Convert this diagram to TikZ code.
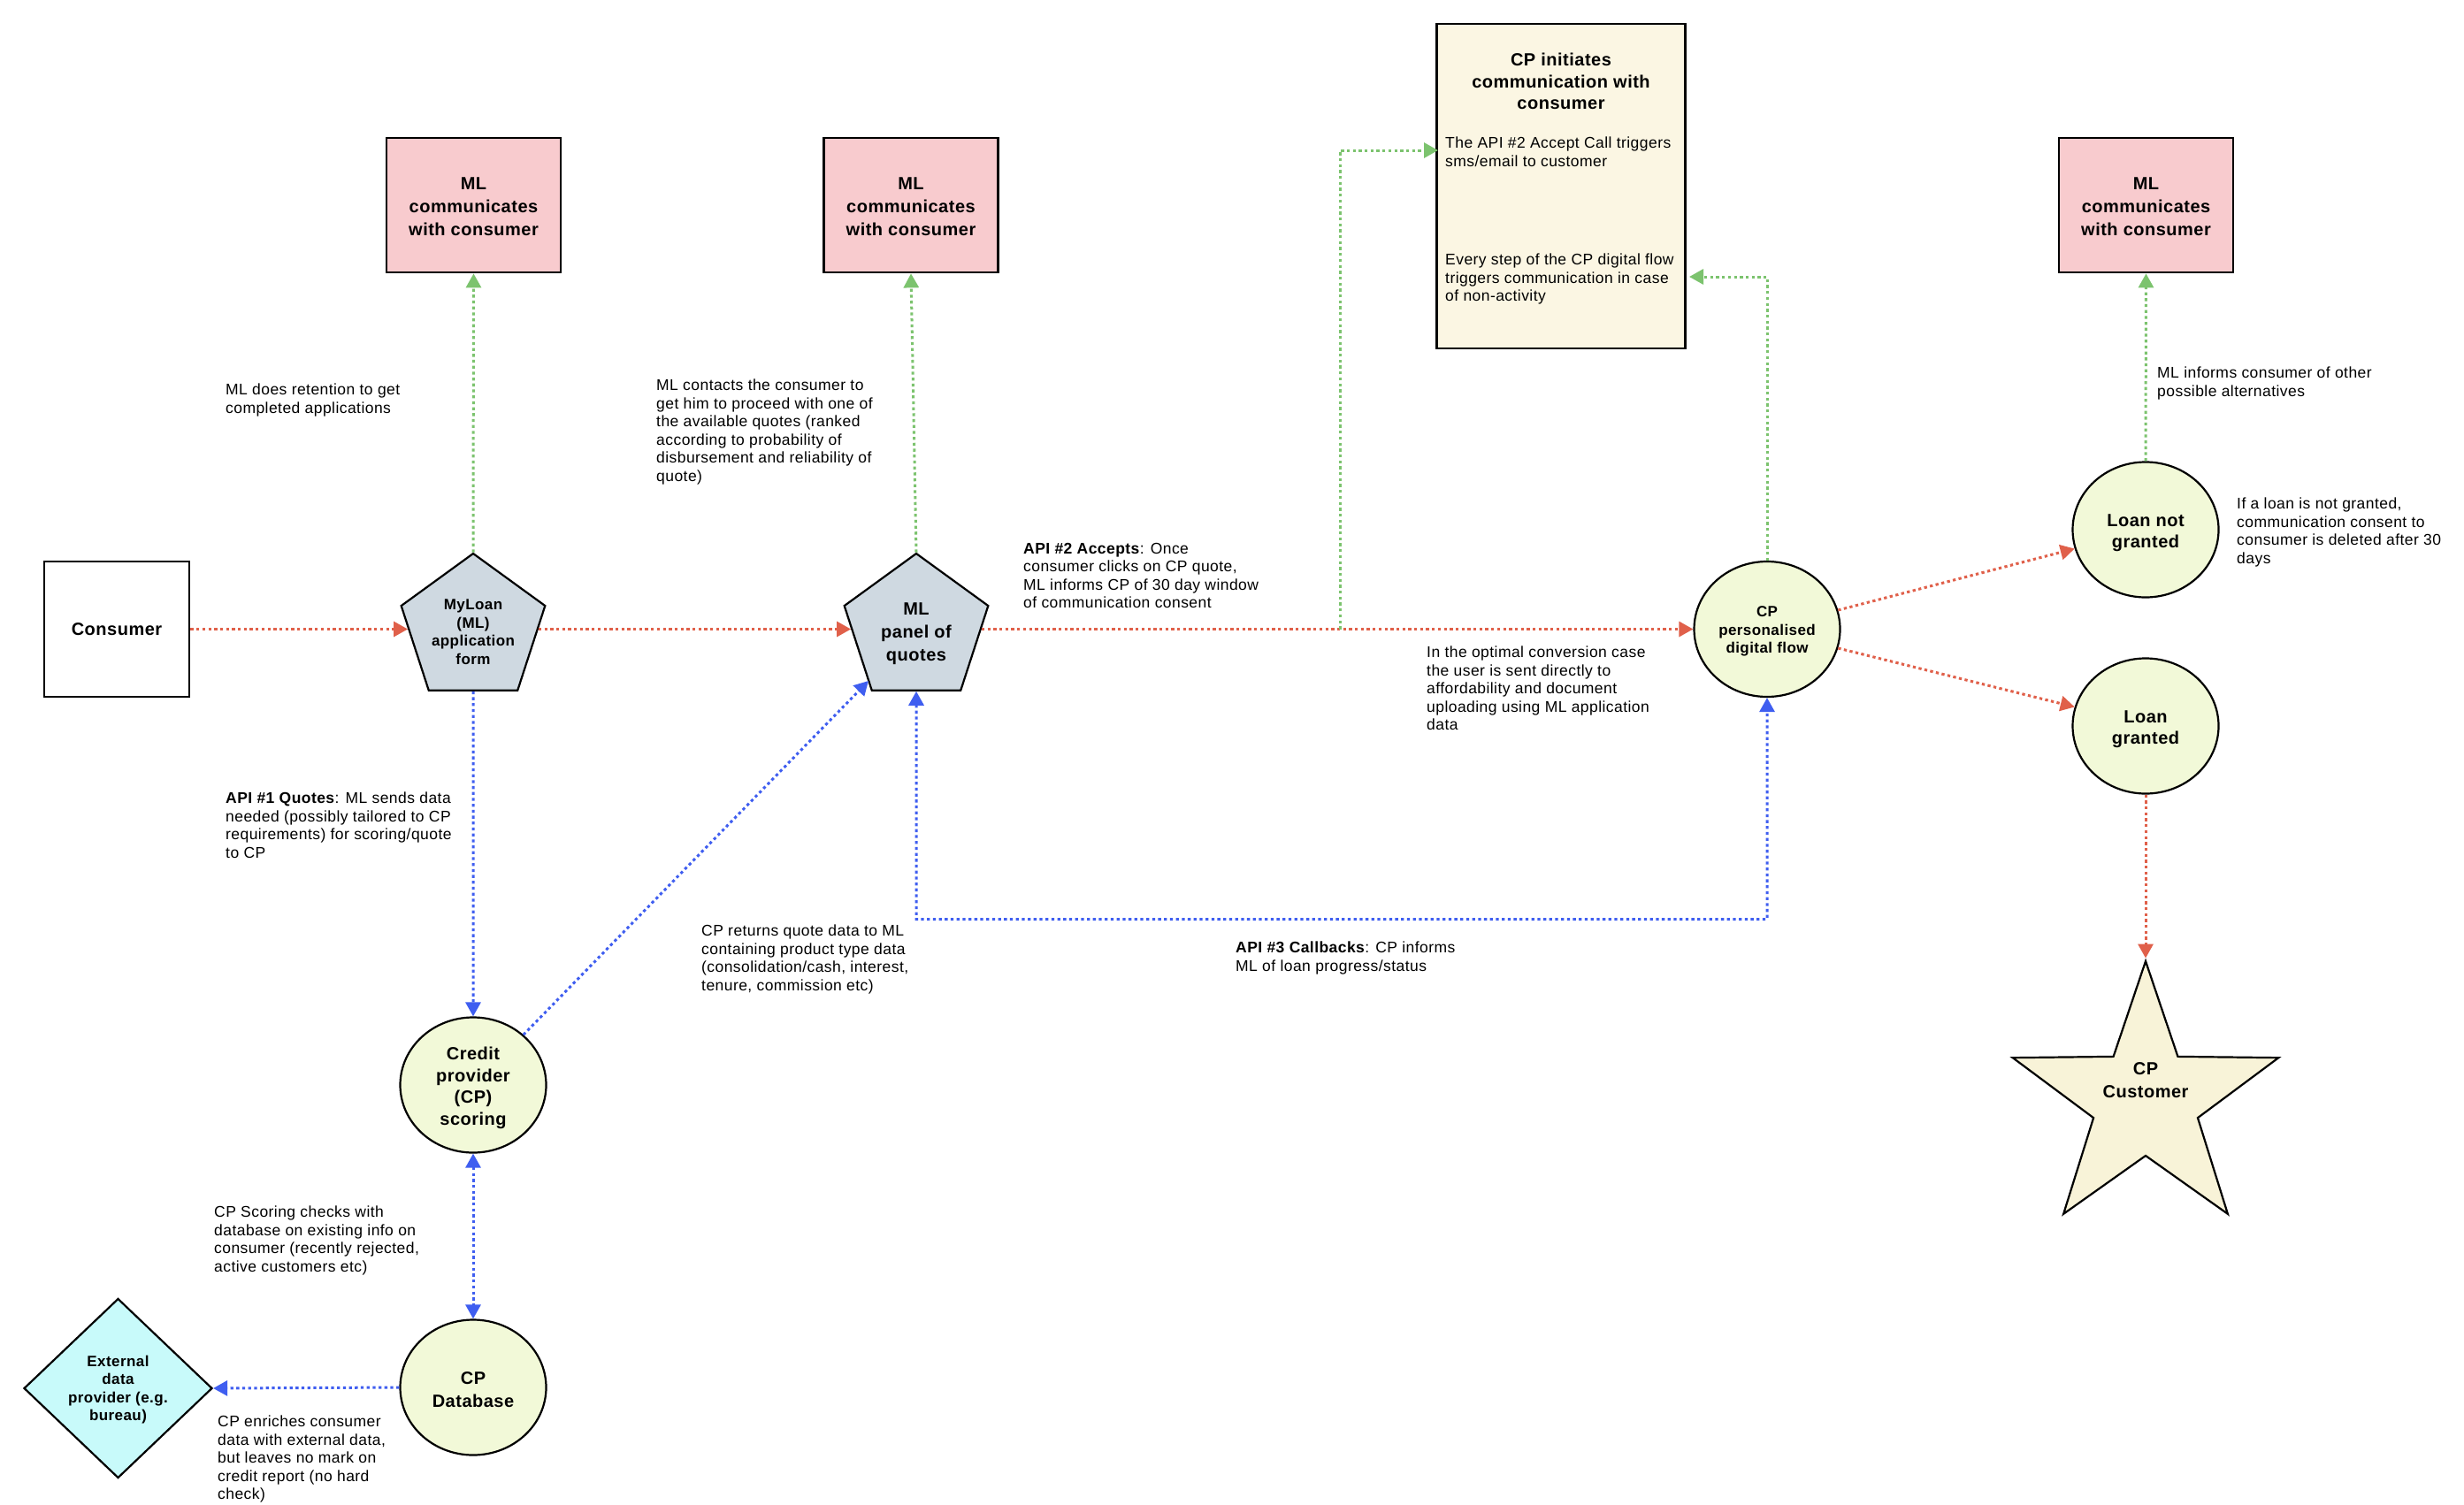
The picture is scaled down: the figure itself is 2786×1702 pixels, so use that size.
\documentclass[tikz,border=0pt]{standalone}
\usepackage{fontspec}
\setmainfont[LetterSpace=2.5]{Liberation Sans}
\usetikzlibrary{shapes.geometric,arrows.meta}
\definecolor{cred}{HTML}{E0604A}
\definecolor{cblue}{HTML}{3F5EF0}
\definecolor{cgreen}{HTML}{7CC36E}
\definecolor{fpink}{HTML}{F8CBCE}
\definecolor{fbeige}{HTML}{FBF6E3}
\definecolor{fpent}{HTML}{CFD9E1}
\definecolor{fcirc}{HTML}{F2F9D8}
\definecolor{fstar}{HTML}{F8F3D8}
\definecolor{fdiam}{HTML}{C8FAFA}
\newcommand\fsmall{\fontsize{17.5}{20.5}\selectfont}
\newcommand\fmid{\bfseries\fontsize{20}{24.5}\selectfont}
\newcommand\fbig{\bfseries\fontsize{20}{26}\selectfont}
\newcommand\flabel{\bfseries\fontsize{17}{20.5}\selectfont}
\newcommand\shifted[2]{\raisebox{#1}[0pt][0pt]{\begin{tabular}[c]{@{}c@{}}#2\end{tabular}}}
\tikzset{
  outl/.style={draw=black,line width=2.2pt,inner sep=0pt,align=center},
  pinkbox/.style={outl,line width=2.8pt,rectangle,fill=fpink,minimum width=197pt,minimum height=152pt,font=\fbig},
  circ/.style={outl,ellipse,fill=fcirc,minimum width=165pt,minimum height=153pt,font=\fmid},
  pent/.style={outl,regular polygon,regular polygon sides=5,minimum size=171pt,fill=fpent},
  note/.style={anchor=north west,inner sep=0pt,align=left,font=\fsmall,execute at begin node={\vphantom{(}}},
  conn/.style={line width=3pt,dash pattern=on 3.3pt off 3.4pt,-{Triangle[length=16pt,width=17pt]}},
  bluec/.style={conn,draw=cblue},
  greenc/.style={conn,draw=cgreen},
  redc/.style={conn,draw=cred},
  both/.style={{Triangle[length=16pt,width=17pt]}-{Triangle[length=16pt,width=17pt]}},
}
\begin{document}
\begin{tikzpicture}[x=1pt,y=-1pt]
\useasboundingbox (0,0) rectangle (2786,1702);
\fill[white] (0,0) rectangle (2786,1702);
% nodes
\node[outl,line width=2.8pt,rectangle,minimum width=164pt,minimum height=153pt,font=\fbig] (consumer) at (132,711.5) {\shifted{-7pt}{Consumer}};
\node[pent,font=\flabel] (p1) at (535,711.5) {\shifted{-9pt}{MyLoan\\(ML)\\application\\form}};
\node[pent,font=\fbig] (p2) at (1036,711.5) {\shifted{-10pt}{ML\\panel of\\quotes}};
\node[circ,font=\flabel] (flow) at (1998,711.5) {\shifted{-7pt}{CP\\personalised\\digital flow}};
\node[circ] (ln) at (2426,599) {\shifted{-9pt}{Loan not\\granted}};
\node[circ] (lg) at (2426,821) {\shifted{-9pt}{Loan\\granted}};
\node[outl,star,star points=5,star point ratio=2.55,minimum size=316pt,fill=fstar,font=\fbig] (star) at (2426,1245) {\makebox[0pt][c]{\shifted{16.5pt}{CP\\Customer}}};
\node[circ] (credit) at (535,1227) {\shifted{-9pt}{Credit\\provider\\(CP)\\scoring}};
\node[circ,font=\fbig] (db) at (535,1569) {\shifted{-9pt}{CP\\Database}};
\node[outl,diamond,aspect=1.04,fill=fdiam,minimum width=213pt,minimum height=203pt,font=\flabel] (ext) at (133.5,1570) {\shifted{-6pt}{External\\data\\provider (e.g.\\bureau)}};
\node[pinkbox] (m1) at (535.5,232) {\shifted{-8pt}{ML\\communicates\\with consumer}};
\node[pinkbox] (m2) at (1030,232) {\shifted{-8pt}{ML\\communicates\\with consumer}};
\node[pinkbox] (m3) at (2426.5,232) {\shifted{-8pt}{ML\\communicates\\with consumer}};
\node[outl,line width=2.8pt,rectangle,fill=fbeige,minimum width=281pt,minimum height=367pt] (cpbox) at (1765,210.5) {};
\node[anchor=center,align=center,font=\fmid,inner sep=0pt] (cptitle) at (1765,92) {CP initiates\\communication with\\consumer};
\node[note] (cpt1) at (1634,155) {The API \#2 Accept Call triggers\\sms/email to customer};
\node[note] (cpt2) at (1634,287) {Every step of the CP digital flow\\triggers communication in case\\of non-activity};
% notes
\node[note] (n1) at (255,434) {ML does retention to get\\completed applications};
\node[note] (n2) at (742,429) {ML contacts the consumer to\\get him to proceed with one of\\the available quotes (ranked\\according to probability of\\disbursement and reliability of\\quote)};
\node[note] (n3) at (1157,614) {\textbf{API \#2 Accepts}: Once\\consumer clicks on CP quote,\\ML informs CP of 30 day window\\of communication consent};
\node[note] (n4) at (1613,731) {In the optimal conversion case\\the user is sent directly to\\affordability and document\\uploading using ML application\\data};
\node[note] (n5) at (255,896) {\textbf{API \#1 Quotes}: ML sends data\\needed (possibly tailored to CP\\requirements) for scoring/quote\\to CP};
\node[note] (n6) at (793,1046) {CP returns quote data to ML\\containing product type data\\(consolidation/cash, interest,\\tenure, commission etc)};
\node[note] (n7) at (1397,1065) {\textbf{API \#3 Callbacks}: CP informs\\ML of loan progress/status};
\node[note] (n8) at (242,1364) {CP Scoring checks with\\database on existing info on\\consumer (recently rejected,\\active customers etc)};
\node[note] (n9) at (246,1601) {CP enriches consumer\\data with external data,\\but leaves no mark on\\credit report (no hard\\check)};
\node[note] (n10) at (2439,415) {ML informs consumer of other\\possible alternatives};
\node[note] (n11) at (2529,563) {If a loan is not granted,\\communication consent to\\consumer is deleted after 30\\days};
% connector helpers
\coordinate (elbow) at (1515,711.5);
\coordinate (cpin1) at (1626,170);
\coordinate (cpin2) at (1910,313);
\coordinate (p2in) at (982,770);
\coordinate (busl) at (1036,1039.5);
\coordinate (busr) at (1998,1039.5);
% connectors
\draw[redc] (consumer.east) -- (p1.west);
\draw[redc] (p1.east) -- (p2.west);
\draw[redc] (p2.east) -- (flow.west);
\draw[redc] (flow.15) -- (ln.195);
\draw[redc] (flow.-15) -- (lg.165);
\draw[redc] (lg.south) -- (star.outer point 1);
\draw[bluec] (p1.south) -- (credit.north);
\draw[bluec] (credit.45) -- (p2in);
\draw[bluec,both] (p2.south) -- (busl) -- (busr) -- (flow.south);
\draw[bluec,both] (credit.south) -- (db.north);
\draw[bluec] (db.west) -- (ext.east);
\draw[greenc] (p1.north) -- (m1.south);
\draw[greenc] (p2.north) -- (m2.south);
\draw[greenc] (ln.north) -- (m3.south);
\draw[greenc] (elbow) |- (cpin1);
\draw[greenc] (flow.north) |- (cpin2);
\end{tikzpicture}
\end{document}
